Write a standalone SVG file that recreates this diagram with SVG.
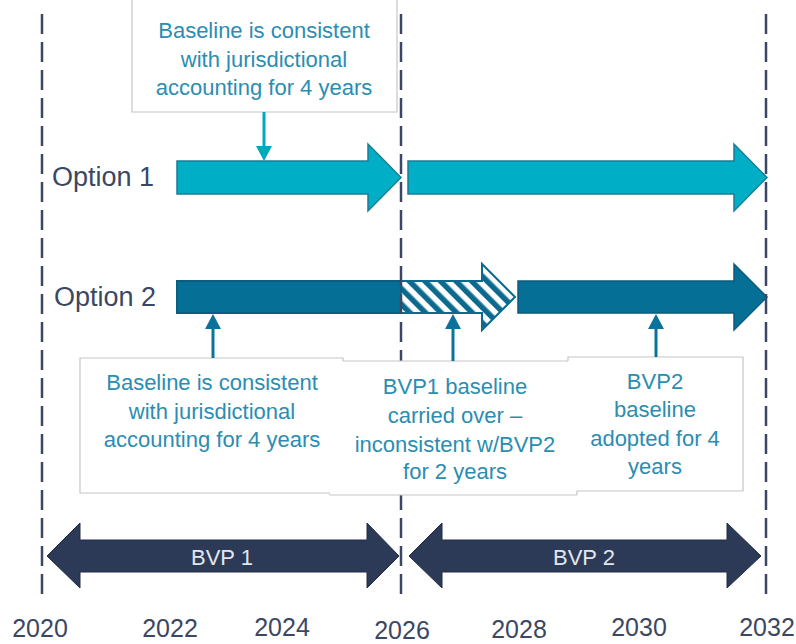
<svg xmlns="http://www.w3.org/2000/svg" width="796" height="644" viewBox="0 0 796 644">
  <style>
    .opt1 { fill: #00afc5; stroke: #1a7e95; stroke-width: 1.5; }
    .opt2 { fill: #066f96; stroke: #0b5b7b; stroke-width: 1.5; }
    .hatch { fill: url(#stripes); stroke: #0b6a8e; stroke-width: 2; }
    .bvp { fill: #2c3a57; stroke: #222d45; stroke-width: 1; }
    .vline { stroke: #3b4763; stroke-width: 2.5; stroke-dasharray: 20 8; fill: none; }
    .boxfill { fill: #ffffff; stroke: none; }
    .boxline { fill: none; stroke: #c6c6c6; stroke-width: 1.2; }
    .note { font-family: "Liberation Sans", Arial, sans-serif; font-size: 22px; fill: #2b8db1; text-anchor: middle; }
    .opt { font-family: "Liberation Sans", Arial, sans-serif; font-size: 27px; fill: #3b4763; }
    .year { font-family: "Liberation Sans", Arial, sans-serif; font-size: 25px; fill: #3b4763; text-anchor: middle; }
    .bvptext { font-family: "Liberation Sans", Arial, sans-serif; font-size: 22px; fill: #e2e6ee; text-anchor: middle; }
    .c1 { stroke: #00a8c0; stroke-width: 3; fill: none; }
    .c2 { stroke: #0a729b; stroke-width: 3; fill: none; }
  </style>
  <defs>
    <pattern id="stripes" width="11" height="11" patternUnits="userSpaceOnUse" patternTransform="rotate(-45)">
      <rect width="11" height="11" fill="#ffffff"/>
      <rect width="5.5" height="11" fill="#0b6a8e"/>
    </pattern>
  </defs>

  <rect width="796" height="644" fill="#ffffff"/>

  <!-- Option arrows -->
  <g id="option1-bvp1">
    <path class="opt1" d="M177,161 H368 V144 L401,177.5 L368,211 V194 H177 Z"/>
  </g>
  <g id="option1-bvp2">
    <path class="opt1" d="M408,161 H734 V144 L767,177.5 L734,211 V194 H408 Z"/>
  </g>
  <g id="option2-bvp1">
    <path class="hatch" d="M177,281 H482 V264 L515,297 L482,330 V313 H177 Z"/>
    <rect class="opt2" x="177" y="281" width="224" height="32"/>
  </g>
  <g id="option2-bvp2">
    <path class="opt2" d="M518,281 H734 V264 L767,297 L734,330 V313 H518 Z"/>
  </g>

  <!-- Period arrows -->
  <g id="bvp1">
    <path class="bvp" d="M47,556 L80,523 V540 H367 V523 L399,556 L367,588 V572 H80 V588 Z"/>
    <text class="bvptext" x="222" y="565">BVP 1</text>
  </g>
  <g id="bvp2">
    <path class="bvp" d="M409,556 L442,523 V540 H727 V523 L761,556 L727,588 V572 H442 V588 Z"/>
    <text class="bvptext" x="584" y="565">BVP 2</text>
  </g>

  <!-- Dashed year lines -->
  <g id="year-lines">
    <line class="vline" x1="42" y1="14" x2="42" y2="596"/>
    <line class="vline" x1="401" y1="14" x2="401" y2="596"/>
    <line class="vline" x1="766" y1="14" x2="766" y2="596"/>
  </g>

  <!-- Labels -->
  <g id="option-labels">
    <text class="opt" x="52" y="186">Option 1</text>
    <text class="opt" x="54" y="306">Option 2</text>
  </g>

  <!-- Note boxes -->
  <g id="note-top">
    <rect class="boxfill" x="132" y="-4" width="265" height="116"/>
    <path class="boxline" d="M132,-4 V112 H397 V-4"/>
    <text class="note" x="264" y="38">Baseline is consistent</text>
    <text class="note" x="264" y="67">with jurisdictional</text>
    <text class="note" x="264" y="95">accounting for 4 years</text>
  </g>
  <g id="note-option2-a">
    <rect class="boxfill" x="80" y="358" width="263" height="135"/>
    <path class="boxline" d="M343,361 V358 H80 V493 H330 V495"/>
    <text class="note" x="212" y="390">Baseline is consistent</text>
    <text class="note" x="212" y="419">with jurisdictional</text>
    <text class="note" x="212" y="447">accounting for 4 years</text>
  </g>
  <g id="note-option2-b">
    <rect class="boxfill" x="330" y="361" width="247" height="134"/>
    <path class="boxline" d="M343,361 H568 M330,495 H577"/>
    <text class="note" x="455" y="394">BVP1 baseline</text>
    <text class="note" x="455" y="423">carried over –</text>
    <text class="note" x="455" y="452">inconsistent w/BVP2</text>
    <text class="note" x="455" y="479">for 2 years</text>
  </g>
  <g id="note-option2-c">
    <rect class="boxfill" x="568" y="357" width="175" height="134"/>
    <path class="boxline" d="M568,361 V357 H743 V491 H577 V495"/>
    <text class="note" x="655" y="389">BVP2</text>
    <text class="note" x="655" y="417">baseline</text>
    <text class="note" x="655" y="446">adopted for 4</text>
    <text class="note" x="655" y="474">years</text>
  </g>

  <!-- Connectors -->
  <g id="connectors">
    <line class="c1" x1="264" y1="112" x2="264" y2="148"/>
    <polygon points="256,146 272,146 264,161" fill="#00a8c0"/>
    <line class="c2" x1="213" y1="358" x2="213" y2="326"/>
    <polygon points="205,329 221,329 213,314" fill="#0a729b"/>
    <line class="c2" x1="453" y1="361" x2="453" y2="326"/>
    <polygon points="445,329 461,329 453,314" fill="#0a729b"/>
    <line class="c2" x1="656" y1="357" x2="656" y2="326"/>
    <polygon points="648,329 664,329 656,314" fill="#0a729b"/>
  </g>

  <!-- Years -->
  <g id="years">
    <text class="year" x="40" y="637">2020</text>
    <text class="year" x="170" y="637">2022</text>
    <text class="year" x="282" y="636">2024</text>
    <text class="year" x="402" y="639">2026</text>
    <text class="year" x="519" y="638">2028</text>
    <text class="year" x="639" y="636">2030</text>
    <text class="year" x="767" y="636">2032</text>
  </g>
</svg>
